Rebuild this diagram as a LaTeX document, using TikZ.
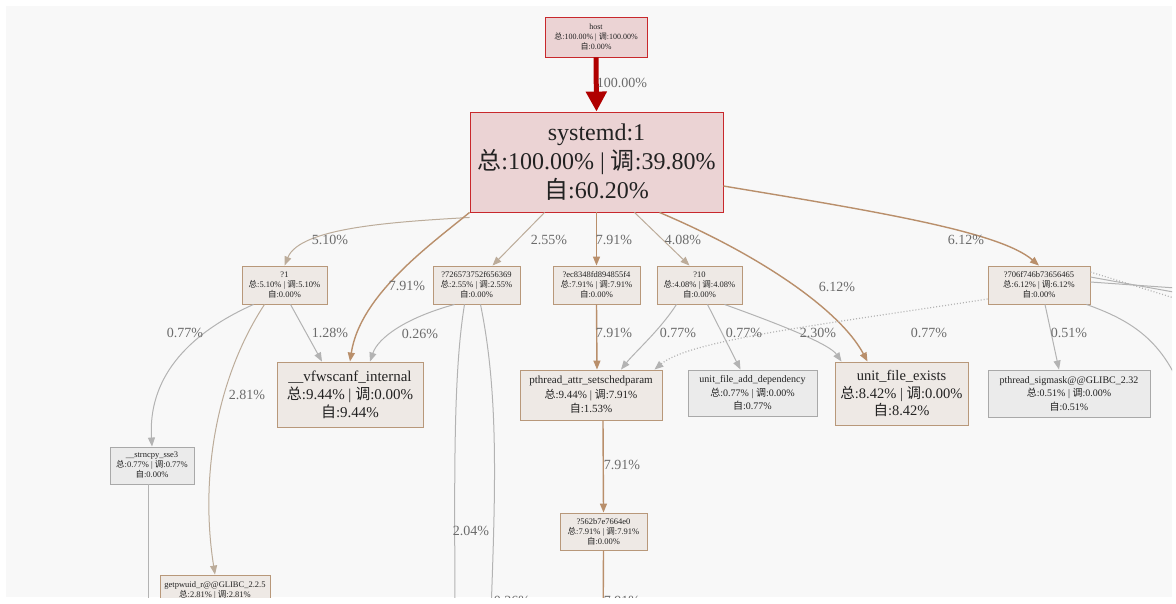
\documentclass[tikz,border=0pt]{standalone}
\usepackage{fontspec}
\setmainfont{Liberation Serif}
\newfontfamily\cjk{Noto Sans CJK SC}
\usetikzlibrary{arrows.meta}
\newcommand\zongc{{\cjk 总}}
\newcommand\tiaoc{{\cjk 调}}
\newcommand\zic{{\cjk 自}}
\definecolor{redb}{HTML}{C8282C}
\definecolor{redf}{HTML}{EBD3D4}
\definecolor{deepred}{HTML}{B00000}
\definecolor{tanb}{HTML}{B8987A}
\definecolor{tanf}{HTML}{EEE9E5}
\definecolor{greyb}{HTML}{A9A9A9}
\definecolor{greyf}{HTML}{EBEBEB}
\definecolor{tanline}{HTML}{B98F6B}
\definecolor{beigeline}{HTML}{BCAC9A}
\definecolor{greyline}{HTML}{B3B3B3}
\definecolor{txt}{HTML}{222222}
\definecolor{lbltxt}{HTML}{6B6B6B}
\definecolor{bg}{HTML}{F8F8F8}
\tikzset{
  box/.style={draw, rectangle, align=center, inner sep=0pt, text=txt, line width=0.9pt},
  redbox/.style={box, draw=redb, fill=redf},
  tanbox/.style={box, draw=tanb, fill=tanf},
  greybox/.style={box, draw=greyb, fill=greyf},
  fs/.style 2 args={font=\fontsize{#1}{#2}\selectfont},
  lbl/.style={text=lbltxt, font=\fontsize{14}{16}\selectfont, inner sep=0pt},
  tip/.style={-{Triangle[length=9pt,width=7pt]}},
  tanedge/.style={tip, draw=tanline, line width=1.4pt},
  beigeedge/.style={tip, draw=beigeline, line width=1pt},
  greyedge/.style={tip, draw=greyline, line width=1pt},
  plainedge/.style={draw=greyline, line width=1pt},
  hotedge/.style={draw=deepred, line width=5pt, -{Triangle[length=20pt,width=20pt]}},
}
\begin{document}
\begin{tikzpicture}[x=1pt,y=-1pt]
\useasboundingbox (0,0) rectangle (1176,603);
\fill[white] (0,0) rectangle (1176,603);
\fill[bg] (6,6) rectangle (1172,597);
\begin{scope}
\clip (6,6) rectangle (1172,597);

% nodes
\node[redbox, fs={8}{10}, minimum width=102, minimum height=40] (host) at (596,37)
  {host\\\zongc:100.00\% | \tiaoc:100.00\%\\\zic:0.00\%};
\node[redbox, fs={24}{29}, minimum width=253, minimum height=100] (systemd) at (596.5,162)
  {systemd:1\\\zongc:100.00\% | \tiaoc:39.80\%\\\zic:60.20\%};

\node[tanbox, fs={8.5}{10}, minimum width=85, minimum height=38] (n1) at (284.5,285)
  {?1\\\zongc:5.10\% | \tiaoc:5.10\%\\\zic:0.00\%};
\node[tanbox, fs={8.5}{10}, minimum width=87, minimum height=38] (n7265) at (476.5,285)
  {?726573752f656369\\\zongc:2.55\% | \tiaoc:2.55\%\\\zic:0.00\%};
\node[tanbox, fs={8.5}{10}, minimum width=87, minimum height=38] (nec83) at (596.5,285)
  {?ec8348fd894855f4\\\zongc:7.91\% | \tiaoc:7.91\%\\\zic:0.00\%};
\node[tanbox, fs={8.5}{10}, minimum width=85, minimum height=38] (n10) at (699.5,285)
  {?10\\\zongc:4.08\% | \tiaoc:4.08\%\\\zic:0.00\%};
\node[tanbox, fs={8.5}{10}, minimum width=102, minimum height=38] (n706f) at (1039,285)
  {?706f746b73656465\\\zongc:6.12\% | \tiaoc:6.12\%\\\zic:0.00\%};

\node[tanbox, fs={15}{18}, minimum width=146, minimum height=65] (vfw) at (350,394.5)
  {\_\_vfwscanf\_internal\\\zongc:9.44\% | \tiaoc:0.00\%\\\zic:9.44\%};
\node[tanbox, fs={11}{14.5}, minimum width=142, minimum height=50] (pattr) at (591,395)
  {pthread\_attr\_setschedparam\\\zongc:9.44\% | \tiaoc:7.91\%\\\zic:1.53\%};
\node[greybox, fs={10}{13.5}, minimum width=129, minimum height=46] (ufad) at (752.5,393)
  {unit\_file\_add\_dependency\\\zongc:0.77\% | \tiaoc:0.00\%\\\zic:0.77\%};
\node[tanbox, fs={14.5}{17.5}, minimum width=133, minimum height=63] (ufe) at (901.5,393.5)
  {unit\_file\_exists\\\zongc:8.42\% | \tiaoc:0.00\%\\\zic:8.42\%};
\node[greybox, fs={10}{13.5}, minimum width=162, minimum height=47] (psig) at (1069,393.5)
  {pthread\_sigmask@@GLIBC\_2.32\\\zongc:0.51\% | \tiaoc:0.00\%\\\zic:0.51\%};

\node[greybox, fs={8.5}{10}, minimum width=84, minimum height=37] (strn) at (152,465.5)
  {\_\_strncpy\_sse3\\\zongc:0.77\% | \tiaoc:0.77\%\\\zic:0.00\%};
\node[tanbox, fs={8.5}{10}, minimum width=110, minimum height=40] (getpw) at (215,595)
  {getpwuid\_r@@GLIBC\_2.2.5\\\zongc:2.81\% | \tiaoc:2.81\%\\\zic:0.00\%};
\node[tanbox, fs={8.5}{10}, minimum width=87, minimum height=37] (n562b) at (603.5,531.5)
  {?562b7e7664e0\\\zongc:7.91\% | \tiaoc:7.91\%\\\zic:0.00\%};

% loose ends of edges leaving the visible area
\coordinate (offA) at (455,640);
\coordinate (offB) at (490,640);
\coordinate (offC) at (603,640);
\coordinate (offD) at (148,640);
\coordinate (offE1) at (1190,289);
\coordinate (offE2) at (1190,295);
\coordinate (offE3) at (1190,303);
\coordinate (offE4) at (1185,400);

% edges
\draw[hotedge] (host.south) -- (systemd.north);
\draw[beigeedge] ([yshift=-5]systemd.south west) .. controls (390,222) and (300,228) .. (n1.north);
\draw[tanedge] (systemd.south west) .. controls (430,245) and (360,295) .. (vfw.north);
\draw[beigeedge] ([xshift=75]systemd.south west) -- ([xshift=16]n7265.north);
\draw[tanedge] (systemd.south) -- (nec83.north);
\draw[beigeedge] ([xshift=38]systemd.south) -- ([xshift=-10]n10.north);
\draw[tanedge] ([xshift=63]systemd.south) .. controls (760,255) and (840,310) .. ([xshift=-34]ufe.north);
\draw[tanedge] ([yshift=-24]systemd.east) .. controls (880,212) and (1000,232) .. (n706f.north);

\draw[greyedge] ([xshift=12]n1.south west) .. controls (185,335) and (148,380) .. (strn.north);
\draw[beigeedge] ([xshift=-20]n1.south) .. controls (215,380) and (200,480) .. (getpw.north);
\draw[greyedge] ([xshift=6]n1.south) -- ([xshift=-28]vfw.north);
\draw[greyedge] ([xshift=-22]n7265.south) .. controls (405,318) and (378,338) .. ([xshift=20]vfw.north);
\draw[plainedge] ([xshift=-12]n7265.south) .. controls (452,380) and (455,500) .. (offA);
\draw[plainedge] ([xshift=4]n7265.south) .. controls (500,400) and (495,500) .. (offB);

\draw[tanedge] (nec83.south) -- ([xshift=6]pattr.north);
\draw[greyedge] ([xshift=-23]n10.south) .. controls (660,330) and (635,352) .. ([xshift=30]pattr.north);
\draw[greyedge] ([xshift=8]n10.south) -- ([xshift=-12]ufad.north);
\draw[greyedge] ([xshift=25]n10.south) .. controls (790,328) and (830,345) .. ([xshift=-60]ufe.north);
\draw[greyedge, dotted, line width=1.2pt] ([yshift=-14]n706f.west) .. controls (820,325) and (690,340) .. ([xshift=-8]pattr.north east);
\draw[greyedge] ([xshift=6]n706f.south) -- ([xshift=-10]psig.north);
\draw[plainedge] ([yshift=3]n706f.east) -- (offE1);
\draw[plainedge] ([yshift=8]n706f.east) -- (offE2);
\draw[plainedge, dotted, line width=1.2pt] ([yshift=13]n706f.east) -- (offE3);
\draw[plainedge] ([xshift=-4]n706f.south east) .. controls (1130,320) and (1165,340) .. (offE4);

\draw[tanedge] ([xshift=12]pattr.south) -- (n562b.north);
\draw[tanline, line width=1.4pt] (n562b.south) -- (offC);
\draw[plainedge] ([xshift=-4]strn.south) -- (offD);

% edge labels
\node[lbl] (l0) at (622,83) {100.00\%};
\node[lbl] (l1) at (330,240) {5.10\%};
\node[lbl] (l2) at (407,286) {7.91\%};
\node[lbl] (l3) at (549,240) {2.55\%};
\node[lbl] (l4) at (614,240) {7.91\%};
\node[lbl] (l5) at (683,240) {4.08\%};
\node[lbl] (l6) at (837,287) {6.12\%};
\node[lbl] (l7) at (966,240) {6.12\%};
\node[lbl] (l8) at (185,333) {0.77\%};
\node[lbl] (l9) at (330,333) {1.28\%};
\node[lbl] (l10) at (420,334) {0.26\%};
\node[lbl] (l11) at (614,333) {7.91\%};
\node[lbl] (l12) at (678,333) {0.77\%};
\node[lbl] (l13) at (744,333) {0.77\%};
\node[lbl] (l14) at (818,333) {2.30\%};
\node[lbl] (l15) at (929,333) {0.77\%};
\node[lbl] (l16) at (1069,333) {0.51\%};
\node[lbl] (l17) at (247,395) {2.81\%};
\node[lbl] (l18) at (471,531) {2.04\%};
\node[lbl] (l19) at (622,465) {7.91\%};
\node[lbl] (l20) at (512,601) {0.26\%};
\node[lbl] (l21) at (622,601) {7.91\%};
\end{scope}
\end{tikzpicture}
\end{document}
